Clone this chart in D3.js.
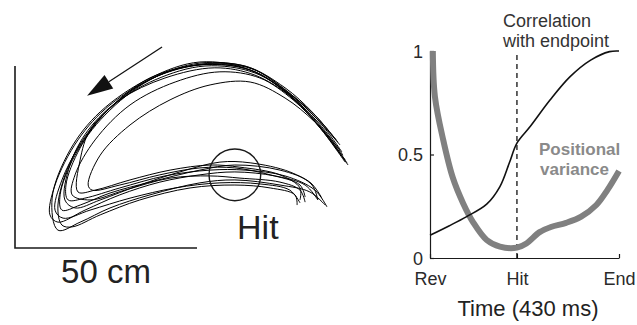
<!DOCTYPE html>
<html>
<head>
<meta charset="utf-8">
<script src="https://cdn.jsdelivr.net/npm/d3@7"></script>
<style>
  html, body { margin: 0; padding: 0; background: #fff; }
  svg { display: block; }
  svg text { font-family: "Liberation Sans", Arial, Helvetica, sans-serif; }
</style>
</head>
<body>
<svg id="chart" width="637" height="325"></svg>
<script>
// ---------- Left panel: hand trajectories (cm) ----------
const trajA = [[90.7,23.6],[83.8,33.0],[75.5,42.0],[64.6,48.9],[50.8,51.1],[37.1,46.7],[23.4,37.4],[15.1,26.9],[10.2,13.7],[11.8,4.9],[17.9,7.1],[26.1,11.0],[37.1,14.6],[50.8,17.9],[60.4,18.7],[72.8,17.3],[81.0,15.4],[85.2,11.8]];
const trajB = [[91.5,22.8],[84.3,32.4],[76.1,41.2],[65.9,48.4],[53.6,50.5],[39.8,47.5],[26.1,39.3],[17.3,29.7],[11.0,17.3],[9.6,9.1],[11.8,7.1],[19.2,10.4],[28.8,14.6],[39.8,18.1],[50.8,20.1],[60.4,20.9],[71.4,19.8],[79.7,17.3],[83.2,13.2]];
const trajC = [[88.7,29.1],[82.4,36.5],[74.2,43.4],[64.6,49.5],[50.8,50.8],[37.1,46.2],[24.7,36.5],[16.5,25.5],[12.4,14.6],[12.9,10.4],[17.9,11.8],[26.1,15.1],[37.1,18.1],[50.8,21.4],[60.4,22.8],[72.8,21.4],[81.0,18.1],[84.3,13.7]];
const trajD = [[90.1,25.5],[83.2,34.6],[75.5,41.8],[65.9,47.5],[54.9,49.5],[41.2,46.7],[28.8,40.7],[20.1,32.4],[15.1,22.8],[13.7,13.2],[16.5,11.0],[23.4,13.2],[34.3,17.3],[45.3,20.9],[56.3,23.6],[64.6,23.4],[75.5,20.9],[81.6,17.3],[83.2,13.2]];
const trajE = [[89.3,26.9],[82.4,34.6],[74.2,41.2],[64.6,45.6],[53.6,44.8],[42.6,40.7],[31.6,33.8],[23.4,25.5],[20.1,17.3],[21.2,15.9],[28.8,17.3],[39.8,20.1],[50.8,22.0],[60.4,22.0],[70.1,20.1],[78.3,17.3],[79.7,14.0]];
const trajF = [[90.7,24.2],[83.8,33.5],[76.1,41.5],[65.9,48.1],[52.2,50.0],[38.5,46.2],[27.5,39.6],[20.6,32.4],[17.9,24.2],[17.3,15.4],[22.0,15.9],[31.6,18.7],[42.6,21.4],[53.6,22.8],[61.8,22.2],[72.8,20.1],[78.3,16.5],[78.3,13.2]];
const trajG = [[88.2,29.7],[81.6,37.4],[74.2,44.0],[63.2,50.0],[49.5,50.3],[35.7,45.6],[23.4,35.7],[15.7,24.7],[11.8,11.8],[12.9,6.3],[15.7,5.8],[23.4,9.1],[34.3,13.2],[48.1,16.5],[60.4,17.3],[70.1,16.5],[76.9,14.6],[77.5,11.8]];
const trajH = [[91.2,23.4],[83.8,33.2],[76.4,40.7],[67.3,46.7],[56.3,48.4],[44.0,45.6],[31.6,39.3],[22.0,29.7],[16.5,20.1],[15.7,14.6],[20.6,13.2],[30.2,15.9],[42.6,19.2],[53.6,19.8],[61.8,19.2],[72.8,18.1],[78.3,15.9],[79.7,12.6]];
const trajI = [[89.8,26.4],[83.2,35.2],[75.0,42.6],[64.6,48.9],[50.8,50.3],[37.1,46.7],[26.1,38.5],[17.9,28.3],[12.9,18.7],[11.0,10.4],[13.2,8.2],[20.6,10.4],[31.6,13.7],[44.0,16.5],[56.3,17.9],[67.3,17.6],[75.5,15.9],[78.3,12.4]];
const trajJ = [[89.3,28.3],[82.7,35.7],[75.0,42.9],[65.1,49.2],[52.2,50.5],[38.5,47.0],[25.5,37.9],[17.9,27.5],[14.0,17.3],[14.6,13.2],[19.2,13.7],[28.8,16.5],[41.2,19.8],[53.6,21.4],[63.2,21.4],[74.2,19.8],[82.4,15.9],[85.7,11.3]];
const trajectories = [trajA, trajB, trajC, trajD, trajE, trajF, trajG, trajH, trajI, trajJ];

const arrowFrom = [40.4, 55.2];   // cm
const arrowTo   = [19.8, 41.8];   // cm
const hitCenter = [60.4, 20.1];   // cm
const hitRadius = 7.1;            // cm
const scaleBarLength = 50;        // cm
const scaleBarLabel = "50 cm";
const hitLabel = "Hit";

// ---------- Right panel ----------
const hitTime = 0.46;             // fraction of 430 ms
const corrT = [0, 0.1, 0.194, 0.3, 0.37, 0.42, 0.46, 0.53, 0.635, 0.74, 0.85, 0.95, 1.0];
const corrV = [0.11, 0.155, 0.2, 0.26, 0.345, 0.46, 0.555, 0.635, 0.763, 0.875, 0.956, 0.997, 1.0];
const varT = [0.015, 0.026, 0.07, 0.12, 0.175, 0.23, 0.3, 0.37, 0.46, 0.51, 0.58, 0.64, 0.72, 0.8, 0.88, 0.94, 1.0];
const varV = [1.0, 0.78, 0.57, 0.39, 0.265, 0.17, 0.087, 0.055, 0.05, 0.07, 0.125, 0.15, 0.17, 0.2, 0.256, 0.33, 0.42];
const yTicks = [0, 0.5, 1];
const yTickLabels = ["0", "0.5", "1"];
const xTicks = [0, hitTime, 1];
const xTickLabels = ["Rev", "Hit", "End"];
const xAxisTitle = "Time (430 ms)";
const corrLabel = ["Correlation", "with endpoint"];
const varLabel = ["Positional", "variance"];

const svg = d3.select("#chart");

// ===== Left panel =====
const xL = d3.scaleLinear().domain([0, 50]).range([15, 197]);
const yL = d3.scaleLinear().domain([0, 50]).range([248, 66]);
const L = svg.append("g");

const trajLine = d3.line().x(d => xL(d[0])).y(d => yL(d[1])).curve(d3.curveCatmullRom.alpha(0.5));
L.selectAll("path.traj").data(trajectories).join("path")
  .attr("class", "traj")
  .attr("d", trajLine)
  .attr("fill", "none")
  .attr("stroke", "#000")
  .attr("stroke-width", 1);

// scale bar
L.append("path")
  .attr("d", `M${xL(0)},${yL(scaleBarLength)}V${yL(0)}H${xL(scaleBarLength)}`)
  .attr("fill", "none").attr("stroke", "#1a1a1a").attr("stroke-width", 1.6);
L.append("text").attr("x", (xL(0) + xL(scaleBarLength)) / 2).attr("y", 283)
  .attr("text-anchor", "middle").attr("font-size", 33).attr("fill", "#222").text(scaleBarLabel);

// arrow
{
  const x0 = xL(arrowFrom[0]), y0 = yL(arrowFrom[1]);
  const x1 = xL(arrowTo[0]), y1 = yL(arrowTo[1]);
  const dx = x0 - x1, dy = y0 - y1, len = Math.hypot(dx, dy);
  const ux = dx / len, uy = dy / len;
  const hl = 26, hw = 8;
  const bx = x1 + ux * hl, by = y1 + uy * hl;
  L.append("line").attr("x1", x0).attr("y1", y0).attr("x2", bx).attr("y2", by)
    .attr("stroke", "#111").attr("stroke-width", 1.3);
  L.append("path")
    .attr("d", `M${x1},${y1}L${bx - uy * hw},${by + ux * hw}L${bx + uy * hw},${by - ux * hw}Z`)
    .attr("fill", "#111");
}

// hit circle
L.append("circle").attr("cx", xL(hitCenter[0])).attr("cy", yL(hitCenter[1]))
  .attr("r", xL(hitRadius) - xL(0))
  .attr("fill", "none").attr("stroke", "#1a1a1a").attr("stroke-width", 1.4);
L.append("text").attr("x", xL(hitCenter[0]) + 23).attr("y", 239)
  .attr("text-anchor", "middle").attr("font-size", 34).attr("fill", "#222").text(hitLabel);

// ===== Right panel =====
const xR = d3.scaleLinear().domain([0, 1]).range([430, 619]);
const yR = d3.scaleLinear().domain([0, 1]).range([258, 51]);
const R = svg.append("g");

const xAxis = d3.axisBottom(xR).tickValues(xTicks).tickFormat((d, i) => xTickLabels[i])
  .tickSizeInner(-4).tickSizeOuter(0).tickPadding(14);
const gx = R.append("g").attr("transform", `translate(0,${yR(0)})`).call(xAxis);
const yAxis = d3.axisLeft(yR).tickValues(yTicks).tickFormat((d, i) => yTickLabels[i])
  .tickSizeInner(-4).tickSizeOuter(0).tickPadding(7);
const gy = R.append("g").attr("transform", `translate(${xR(0)},0)`).call(yAxis);
[gx, gy].forEach(g => {
  g.attr("font-family", null).attr("font-size", null);
  g.select(".domain").attr("stroke", "#1a1a1a").attr("stroke-width", 1.2);
  g.selectAll(".tick line").attr("stroke", "#1a1a1a").attr("stroke-width", 1.2);
  g.selectAll(".tick text").style("font-size", "18px").attr("fill", "#2a2a2a")
    .style("font-family", "'Liberation Sans', Arial, sans-serif");
});
gy.selectAll(".tick text").attr("dy", "0.36em");

R.append("text").attr("x", 528).attr("y", 316).attr("text-anchor", "middle")
  .attr("font-size", 22).attr("fill", "#222").text(xAxisTitle);

// hit dashed line
R.append("line").attr("x1", xR(hitTime)).attr("x2", xR(hitTime))
  .attr("y1", yR(0)).attr("y2", yR(1) + 1)
  .attr("stroke", "#111").attr("stroke-width", 1.3).attr("stroke-dasharray", "5,4");

// positional variance (thick gray)
const lineR = d3.line().x(d => xR(d[0])).y(d => yR(d[1])).curve(d3.curveCatmullRom.alpha(0.5));
R.append("path").datum(varT.map((t, i) => [t, varV[i]]))
  .attr("d", lineR).attr("fill", "none")
  .attr("stroke", "#808080").attr("stroke-width", 6).attr("stroke-linejoin", "round");

// correlation (thin black)
R.append("path").datum(corrT.map((t, i) => [t, corrV[i]]))
  .attr("d", lineR).attr("fill", "none")
  .attr("stroke", "#111").attr("stroke-width", 1.6);

// labels
R.append("text").attr("x", 503).attr("y", 27).attr("font-size", 18).attr("fill", "#333").text(corrLabel[0]);
R.append("text").attr("x", 503).attr("y", 47).attr("font-size", 18).attr("fill", "#333").text(corrLabel[1]);
R.append("text").attr("x", 539).attr("y", 155).attr("font-size", 17).attr("font-weight", "bold").attr("fill", "#8a8a8a").text(varLabel[0]);
R.append("text").attr("x", 540).attr("y", 175).attr("font-size", 17).attr("font-weight", "bold").attr("fill", "#8a8a8a").text(varLabel[1]);
</script>
</body>
</html>
